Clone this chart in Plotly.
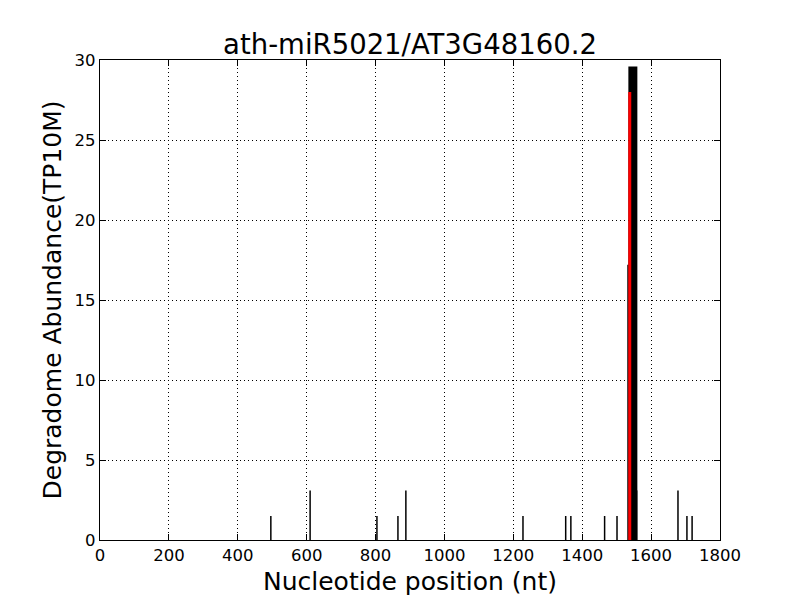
import plotly.graph_objects as go

# Data
positions = [496, 610, 804, 865, 888, 1228, 1352, 1367, 1465, 1501, 1533, 1558, 1678, 1704, 1719]
abundances = [1.5, 3.1, 1.5, 1.5, 3.1, 1.5, 1.5, 1.5, 1.5, 1.5, 17.2, 3.1, 3.1, 1.5, 1.5]
peak_position = [1547]
peak_abundance = [29.6]
cleavage_position = [1538]
cleavage_abundance = [28.0]

x_ticks = [0, 200, 400, 600, 800, 1000, 1200, 1400, 1600, 1800]
y_ticks = [0, 5, 10, 15, 20, 25, 30]


def vlines(xs, ys):
    lx, ly = [], []
    for x, y in zip(xs, ys):
        lx += [x, x, None]
        ly += [0, y, None]
    return lx, ly


font = "DejaVu Sans"
fig = go.Figure()

lx, ly = vlines(positions, abundances)
fig.add_trace(go.Scatter(x=lx, y=ly, mode="lines", line=dict(color="black", width=1.5),
                         hoverinfo="skip", showlegend=False))
lx, ly = vlines(peak_position, peak_abundance)
fig.add_trace(go.Scatter(x=lx, y=ly, mode="lines", line=dict(color="black", width=9),
                         hoverinfo="skip", showlegend=False))
lx, ly = vlines(cleavage_position, cleavage_abundance)
fig.add_trace(go.Scatter(x=lx, y=ly, mode="lines", line=dict(color="red", width=3),
                         hoverinfo="skip", showlegend=False))

axis_common = dict(
    showline=True, linecolor="black", linewidth=1.3, mirror="ticks",
    ticks="inside", ticklen=6, tickwidth=1, tickcolor="black",
    showgrid=True, gridcolor="black", gridwidth=0.8, griddash="1px,3px",
    zeroline=False, tickfont=dict(family=font, size=16.5, color="black"),
    automargin=False,
)

fig.update_xaxes(range=[0, 1800], tickvals=x_ticks, ticktext=[str(v) for v in x_ticks],
                 title=dict(text="Nucleotide position (nt)", font=dict(family=font, size=25, color="black"),
                            standoff=8),
                 **axis_common)
fig.update_yaxes(range=[0, 30], tickvals=y_ticks, ticktext=[str(v) for v in y_ticks],
                 title=dict(text="Degradome Abundance(TP10M)", font=dict(family=font, size=25, color="black"),
                            standoff=5),
                 **axis_common)

W, H = 792, 592
fig.update_layout(
    width=W, height=H,
    margin=dict(l=92, r=80, t=52, b=60, autoexpand=False),
    plot_bgcolor="white", paper_bgcolor="white",
    title=dict(text="ath-miR5021/AT3G48160.2", x=402 / W, xanchor="center", y=1 - 36 / H, yanchor="middle",
               font=dict(family=font, size=27.5, color="black"), automargin=False),
    font=dict(family=font, color="black"),
)

fig.write_html("out.html")
